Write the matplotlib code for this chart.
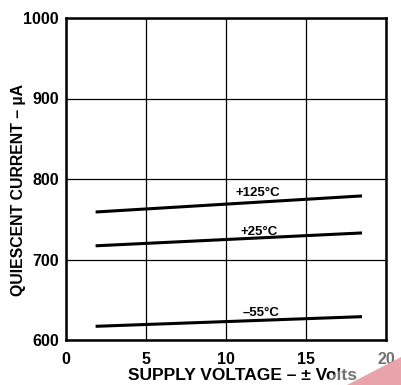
import matplotlib.pyplot as plt
from matplotlib.patches import Polygon

plt.rcParams['font.family'] = ['Liberation Sans', 'DejaVu Sans']
plt.rcParams['font.weight'] = 'bold'

# supply voltage (±V) at the ends of each curve
volts = [1.85, 18.5]
i_125 = [759, 779]
i_25 = [717, 733]
i_m55 = [617, 629]
labels = ['+125°C', '+25°C', '–55°C']
label_x = [12.0, 12.05, 12.2]
label_y = [779, 730, 630]

xticks = [0, 5, 10, 15, 20]
yticks = [600, 700, 800, 900, 1000]

fig = plt.figure(figsize=(4.01, 3.85), dpi=100)
ax = fig.add_axes([66/401, 45/385, 320/401, 322/385])

for ys in (i_125, i_25, i_m55):
    ax.plot(volts, ys, color='black', lw=2.2, solid_capstyle='butt')

for t, x, y in zip(labels, label_x, label_y):
    ax.text(x, y, t, fontsize=9.5, fontweight='bold', ha='center', va='baseline')

ax.set_xlim(0, 20)
ax.set_ylim(600, 1000)
ax.set_xticks(xticks)
ax.set_yticks(yticks)
ax.grid(True, color='black', lw=0.9)
ax.tick_params(length=0, labelsize=11.5)
ax.tick_params(axis='x', pad=9)
ax.tick_params(axis='y', pad=5)
for lab in ax.get_xticklabels() + ax.get_yticklabels():
    lab.set_fontweight('bold')
for s in ax.spines.values():
    s.set_linewidth(1.8)

ax.set_xlabel('SUPPLY VOLTAGE – ± Volts', fontsize=12.5, fontweight='bold')
ax.set_ylabel('QUIESCENT CURRENT – µA', fontsize=11.4, fontweight='bold')
ax.xaxis.set_label_coords(0.55, -0.088)
ax.yaxis.set_label_coords(-0.125, 0.467)

# faded band and pink corner mark
W, H = 401, 385
fade = Polygon([[321/W, 0], [373/W, 42/H], [1, 42/H], [1, 28/H], [347/W, 0]],
               closed=True, transform=fig.transFigure, facecolor='white',
               alpha=0.45, edgecolor='none', zorder=9)
tri = Polygon([[347/W, 0], [1, 28/H], [1, 0]], closed=True,
              transform=fig.transFigure, facecolor='#e9a3aa', edgecolor='none', zorder=10)
fig.patches.extend([fade, tri])

fig.savefig('out.png', dpi=100)
